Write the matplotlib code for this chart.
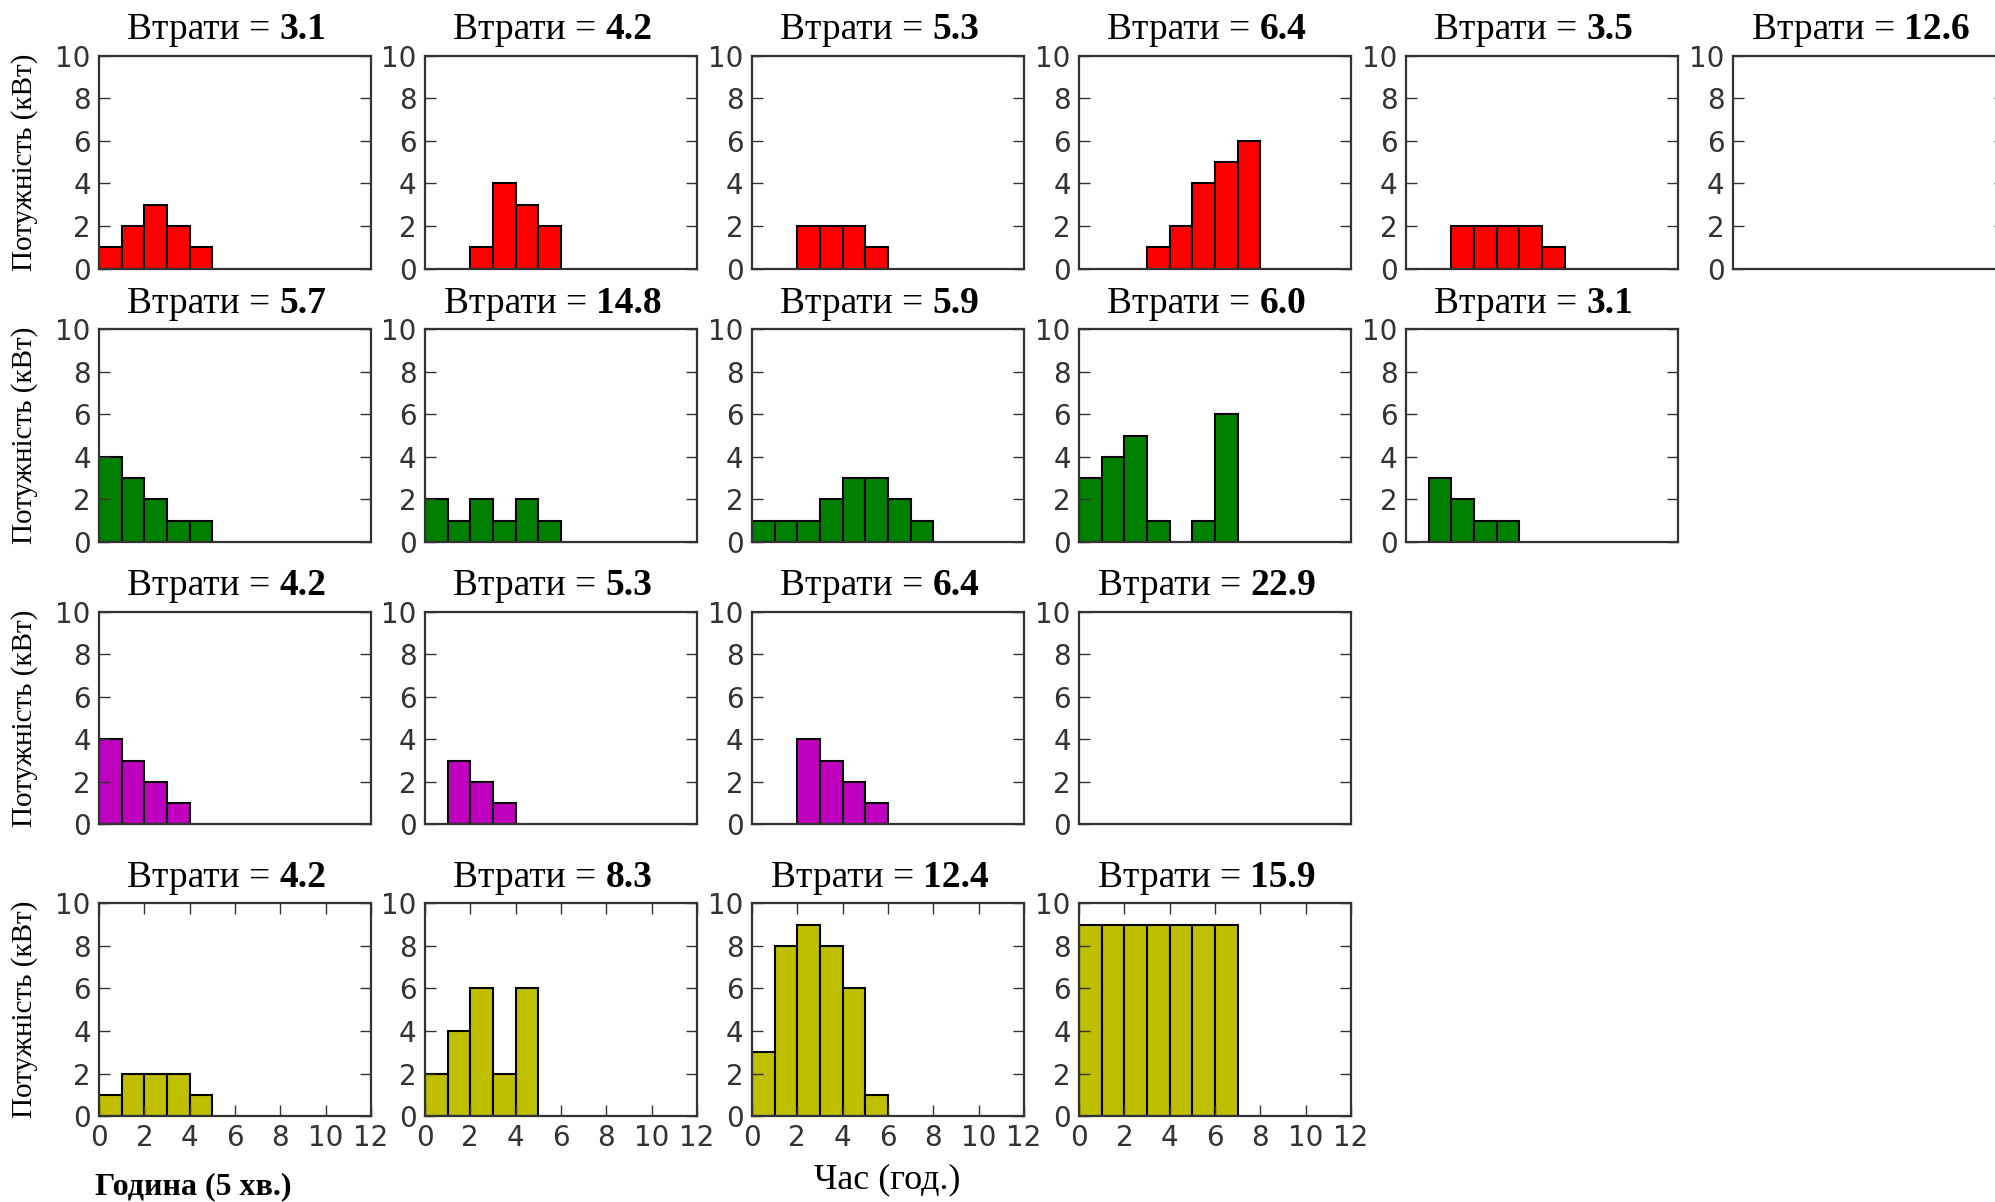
import numpy as np
import matplotlib
matplotlib.use('Agg')
import matplotlib.pyplot as plt
from matplotlib.offsetbox import TextArea, HPacker, AnchoredOffsetbox

# losses shown in the panel titles, one list per row
losses_r1 = [3.1, 4.2, 5.3, 6.4, 3.5, 12.6]
losses_r2 = [5.7, 14.8, 5.9, 6.0, 3.1]
losses_r3 = [4.2, 5.3, 6.4, 22.9]
losses_r4 = [4.2, 8.3, 12.4, 15.9]

# power per time slot (kW), slot i covers [i, i+1)
power_r1 = [[1, 2, 3, 2, 1],
            [0, 0, 1, 4, 3, 2],
            [0, 0, 2, 2, 2, 1],
            [0, 0, 0, 1, 2, 4, 5, 6],
            [0, 0, 2, 2, 2, 2, 1],
            []]
power_r2 = [[4, 3, 2, 1, 1],
            [2, 1, 2, 1, 2, 1],
            [1, 1, 1, 2, 3, 3, 2, 1],
            [3, 4, 5, 1, 0, 1, 6],
            [0, 3, 2, 1, 1]]
power_r3 = [[4, 3, 2, 1],
            [0, 3, 2, 1],
            [0, 0, 4, 3, 2, 1],
            []]
power_r4 = [[1, 2, 2, 2, 1],
            [2, 4, 6, 2, 6],
            [3, 8, 9, 8, 6, 1],
            [9, 9, 9, 9, 9, 9, 9]]

losses = [losses_r1, losses_r2, losses_r3, losses_r4]
power = [power_r1, power_r2, power_r3, power_r4]
row_colors = ['r', 'g', 'm', 'y']

y_ticks = [0, 2, 4, 6, 8, 10]
x_ticks = [0, 2, 4, 6, 8, 10, 12]

# layout in figure fractions
lefts = [0.0497, 0.2130, 0.3769, 0.5409, 0.7048, 0.8687]
bottoms = [0.7766, 0.5491, 0.3141, 0.0715]
w, h = 0.1363, 0.177

serif = 'Liberation Serif'
gray = '#333333'

fig = plt.figure(figsize=(19.95, 12.02), dpi=100)

for r in range(4):
    for c in range(len(losses[r])):
        ax = fig.add_axes([lefts[c], bottoms[r], w, h])
        vals = np.array(power[r][c], dtype=float)
        xs = np.arange(len(vals))
        keep = vals > 0
        ax.bar(xs[keep], vals[keep], width=1, align='edge',
               color=row_colors[r], edgecolor='k', linewidth=1.5)
        ax.set_xlim(0, 12)
        ax.set_ylim(0, 10)
        ax.set_yticks(y_ticks)
        if r == 3:
            ax.set_xticks(x_ticks)
        else:
            ax.set_xticks([])
        ax.tick_params(direction='in', length=8, width=1, top=True, right=True,
                       labelsize=20, color=gray, labelcolor=gray, pad=6)
        for sp in ax.spines.values():
            sp.set_color(gray)
            sp.set_linewidth(1.6)

        # title: "Втрати = " normal + value in bold
        t1 = TextArea('Втрати = ', textprops=dict(family=serif, size=27))
        t2 = TextArea(f'{losses[r][c]:.1f}',
                      textprops=dict(family=serif, size=27, weight='bold'))
        box = HPacker(children=[t1, t2], align='baseline', pad=0, sep=0)
        anch = AnchoredOffsetbox(loc='lower center', child=box, pad=0,
                                 borderpad=0, frameon=False,
                                 bbox_to_anchor=(0.47, 1.04),
                                 bbox_transform=ax.transAxes)
        ax.add_artist(anch)

    # y label on the left of each row
    fig.text(25 / 1995, bottoms[r] + h / 2, 'Потужність (кВт)', family=serif,
             size=21, rotation=90, ha='center', va='center')

fig.text(193 / 1995, 1 - 1187 / 1202, 'Година (5 хв.)', family=serif,
         size=23, weight='bold', ha='center', va='center')
fig.text(887 / 1995, 1 - 1180 / 1202, 'Час (год.)', family=serif,
         size=26, ha='center', va='center')

fig.savefig('out.png', dpi=100, facecolor='white')
